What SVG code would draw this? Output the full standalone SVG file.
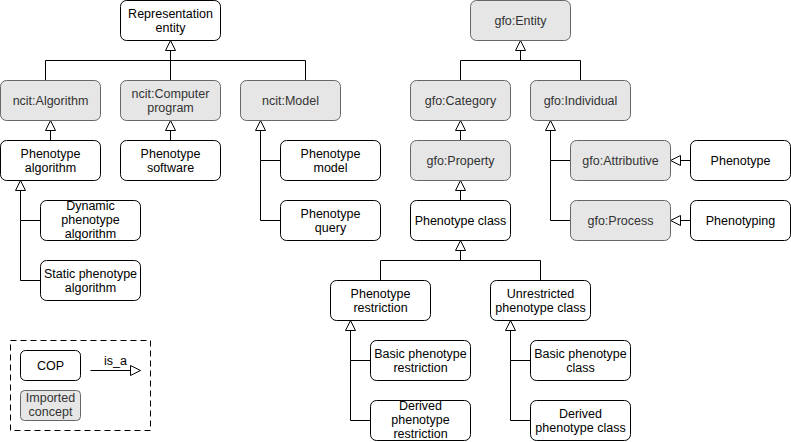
<svg xmlns="http://www.w3.org/2000/svg" width="791" height="442" viewBox="0 0 791 442">
<style>
.n rect{fill:#ffffff;stroke:#000000;stroke-width:1}
.g rect{fill:#e6e6e6;stroke:#666666;stroke-width:1}
text{font-family:"Liberation Sans",Arial,Helvetica,sans-serif;font-size:12.5px;text-anchor:middle;fill:#000000}
.g text{fill:#333333}
.e path{fill:none;stroke:#000000;stroke-width:1}
.a{marker-end:url(#tri)}
</style>
<defs>
<marker id="tri" viewBox="0 0 12 12" refX="11" refY="6" markerWidth="12" markerHeight="12" markerUnits="userSpaceOnUse" orient="auto">
<path d="M1,1 L11,6 L1,11 Z" fill="#ffffff" stroke="#000000" stroke-width="1"/>
</marker>
</defs>
<rect width="791" height="442" fill="#ffffff"/>
<g transform="translate(0.5,0.5)">
<g id="connectors" class="e">
<path d="M45,80 V60 H305 V80"/>
<path class="a" d="M170,80 V40"/>
<path class="a" d="M50,140 V120"/>
<path class="a" d="M170,140 V120"/>
<path class="a" d="M280,160 H260 V120"/>
<path d="M280,220 H260 V160"/>
<path class="a" d="M40,220 H20 V180"/>
<path d="M40,280 H20 V220"/>
<path d="M460,80 V60 H580 V80"/>
<path class="a" d="M520,60 V40"/>
<path class="a" d="M460,140 V120"/>
<path class="a" d="M460,200 V180"/>
<path class="a" d="M570,160 H550 V120"/>
<path d="M570,220 H550 V160"/>
<path class="a" d="M690,160 H670"/>
<path class="a" d="M690,220 H670"/>
<path d="M380,280 V260 H540 V280"/>
<path class="a" d="M460,260 V240"/>
<path class="a" d="M370,360 H350 V320"/>
<path d="M370,420 H350 V360"/>
<path class="a" d="M530,360 H510 V320"/>
<path d="M530,420 H510 V360"/>
</g>

<g id="representation-entity" class="n"><rect x="120" y="0" width="100" height="40" rx="6"/><text x="170" y="17">Representation</text><text x="170" y="31">entity</text></g>
<g id="ncit-algorithm" class="g"><rect x="0" y="80" width="100" height="40" rx="6"/><text x="50" y="104">ncit:Algorithm</text></g>
<g id="ncit-computer-program" class="g"><rect x="120" y="80" width="100" height="40" rx="6"/><text x="170" y="97">ncit:Computer</text><text x="170" y="111">program</text></g>
<g id="ncit-model" class="g"><rect x="240" y="80" width="100" height="40" rx="6"/><text x="290" y="104">ncit:Model</text></g>
<g id="phenotype-algorithm" class="n"><rect x="0" y="140" width="100" height="40" rx="6"/><text x="50" y="157">Phenotype</text><text x="50" y="171">algorithm</text></g>
<g id="phenotype-software" class="n"><rect x="120" y="140" width="100" height="40" rx="6"/><text x="170" y="157">Phenotype</text><text x="170" y="171">software</text></g>
<g id="phenotype-model" class="n"><rect x="280" y="140" width="100" height="40" rx="6"/><text x="330" y="157">Phenotype</text><text x="330" y="171">model</text></g>
<g id="phenotype-query" class="n"><rect x="280" y="200" width="100" height="40" rx="6"/><text x="330" y="217">Phenotype</text><text x="330" y="231">query</text></g>
<g id="dynamic-phenotype-algorithm" class="n"><rect x="40" y="200" width="100" height="40" rx="6"/><text x="90" y="209.5">Dynamic</text><text x="90" y="223.5">phenotype</text><text x="90" y="237.5">algorithm</text></g>
<g id="static-phenotype-algorithm" class="n"><rect x="40" y="260" width="100" height="40" rx="6"/><text x="90" y="277">Static phenotype</text><text x="90" y="291">algorithm</text></g>

<g id="gfo-entity" class="g"><rect x="470" y="0" width="100" height="40" rx="6"/><text x="520" y="24">gfo:Entity</text></g>
<g id="gfo-category" class="g"><rect x="410" y="80" width="100" height="40" rx="6"/><text x="460" y="104">gfo:Category</text></g>
<g id="gfo-individual" class="g"><rect x="530" y="80" width="100" height="40" rx="6"/><text x="580" y="104">gfo:Individual</text></g>
<g id="gfo-property" class="g"><rect x="410" y="140" width="100" height="40" rx="6"/><text x="460" y="164">gfo:Property</text></g>
<g id="phenotype-class" class="n"><rect x="410" y="200" width="100" height="40" rx="6"/><text x="460" y="224">Phenotype class</text></g>
<g id="gfo-attributive" class="g"><rect x="570" y="140" width="100" height="40" rx="6"/><text x="620" y="164">gfo:Attributive</text></g>
<g id="gfo-process" class="g"><rect x="570" y="200" width="100" height="40" rx="6"/><text x="620" y="224">gfo:Process</text></g>
<g id="phenotype" class="n"><rect x="690" y="140" width="100" height="40" rx="6"/><text x="740" y="164">Phenotype</text></g>
<g id="phenotyping" class="n"><rect x="690" y="200" width="100" height="40" rx="6"/><text x="740" y="224">Phenotyping</text></g>

<g id="phenotype-restriction" class="n"><rect x="330" y="280" width="100" height="40" rx="6"/><text x="380" y="297">Phenotype</text><text x="380" y="311">restriction</text></g>
<g id="unrestricted-phenotype-class" class="n"><rect x="490" y="280" width="100" height="40" rx="6"/><text x="540" y="297">Unrestricted</text><text x="540" y="311">phenotype class</text></g>
<g id="basic-phenotype-restriction" class="n"><rect x="370" y="340" width="100" height="40" rx="6"/><text x="420" y="357">Basic phenotype</text><text x="420" y="371">restriction</text></g>
<g id="derived-phenotype-restriction" class="n"><rect x="370" y="400" width="100" height="40" rx="6"/><text x="420" y="409.5">Derived</text><text x="420" y="423.5">phenotype</text><text x="420" y="437.5">restriction</text></g>
<g id="basic-phenotype-class" class="n"><rect x="530" y="340" width="100" height="40" rx="6"/><text x="580" y="357">Basic phenotype</text><text x="580" y="371">class</text></g>
<g id="derived-phenotype-class" class="n"><rect x="530" y="400" width="100" height="40" rx="6"/><text x="580" y="417">Derived</text><text x="580" y="431">phenotype class</text></g>

<g id="legend">
<rect x="10" y="340" width="140" height="90" fill="none" stroke="#000000" stroke-dasharray="6 4"/>
<g id="legend-cop" class="n"><rect x="20" y="350" width="60" height="30" rx="5"/><text x="50" y="369">COP</text></g>
<g id="legend-imported" class="g"><rect x="20" y="390" width="60" height="30" rx="4"/><text x="50" y="401.5">Imported</text><text x="50" y="415.5">concept</text></g>
<g class="e"><path class="a" d="M90,370 H140"/></g>
<text x="115" y="364">is_a</text>
</g>
</g>
</svg>
